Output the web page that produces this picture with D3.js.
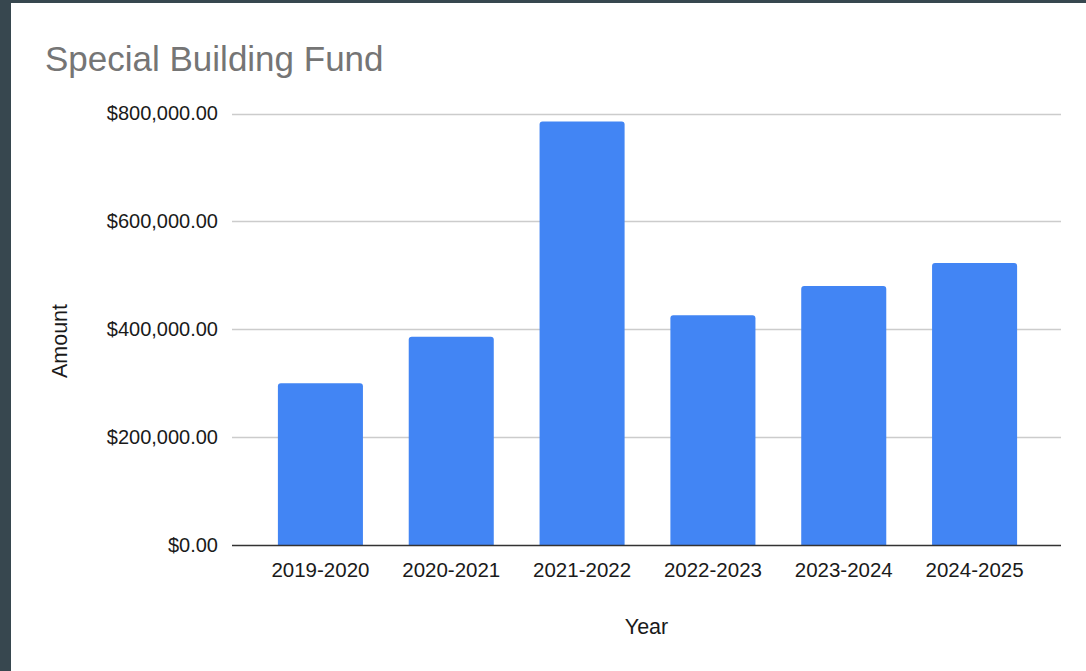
<!DOCTYPE html>
<html>
<head>
<meta charset="utf-8">
<script src="https://cdn.jsdelivr.net/npm/d3@7"></script>
<style>
  html, body { margin: 0; padding: 0; background: #ffffff; }
  svg { display: block; }
</style>
</head>
<body>
<script>
const categories = ["2019-2020", "2020-2021", "2021-2022", "2022-2023", "2023-2024", "2024-2025"];
const amounts = [300000, 386000, 785000, 426000, 480000, 523000];
const yTicks = [0, 200000, 400000, 600000, 800000];
const titleText = "Special Building Fund";
const xAxisTitle = "Year";
const yAxisTitle = "Amount";

const W = 1086, H = 671;
const font = "'Liberation Sans', Arial, sans-serif";

const svg = d3.select("body").append("svg").attr("width", W).attr("height", H);

svg.append("rect").attr("x", 0).attr("y", 0).attr("width", W).attr("height", H).attr("fill", "#ffffff");
// dark frame (top and left)
svg.append("rect").attr("x", 0).attr("y", 0).attr("width", W).attr("height", 3).attr("fill", "#37474f");
svg.append("rect").attr("x", 0).attr("y", 0).attr("width", 11).attr("height", H).attr("fill", "#37474f");

const gridLeft = 232, gridRight = 1061;
const x = d3.scaleBand().domain(categories).range([255, 1040]).paddingInner(0.35).paddingOuter(0.175);
const y = d3.scaleLinear().domain([0, 800000]).range([545, 113.5]);

const fmt = v => "$" + d3.format(",.2f")(v);

// gridlines
svg.append("g").selectAll("line").data(yTicks.filter(t => t !== 0)).join("line")
  .attr("x1", gridLeft).attr("x2", gridRight)
  .attr("y1", d => Math.round(y(d)) + 0.5).attr("y2", d => Math.round(y(d)) + 0.5)
  .attr("stroke", "#cccccc").attr("stroke-width", 1.3);

// y axis labels
const yAxis = d3.axisLeft(y).tickValues(yTicks).tickFormat(fmt).tickSize(0).tickPadding(14);
const yg = svg.append("g").attr("transform", `translate(${gridLeft},0)`).call(yAxis);
yg.select(".domain").remove();
yg.selectAll("text").attr("font-family", font).attr("font-size", 20).attr("fill", "#1a1a1a");

// bars with rounded top corners
const r = 3;
function barPath(d, i) {
  const x0 = x(categories[i]), w = x.bandwidth();
  const yt = y(d), yb = y(0);
  return `M${x0},${yb} L${x0},${yt + r} Q${x0},${yt} ${x0 + r},${yt} L${x0 + w - r},${yt} Q${x0 + w},${yt} ${x0 + w},${yt + r} L${x0 + w},${yb} Z`;
}
svg.append("g").selectAll("path").data(amounts).join("path")
  .attr("d", (d, i) => barPath(d, i))
  .attr("fill", "#4285f4");

// baseline
svg.append("line").attr("x1", gridLeft).attr("x2", gridRight)
  .attr("y1", y(0) + 0.5).attr("y2", y(0) + 0.5)
  .attr("stroke", "#333333").attr("stroke-width", 1.5);

// x axis labels
const xAxis = d3.axisBottom(x).tickSize(0).tickPadding(17);
const xg = svg.append("g").attr("transform", `translate(0,${y(0)})`).call(xAxis);
xg.select(".domain").remove();
xg.selectAll("text").attr("font-family", font).attr("font-size", 20.5).attr("fill", "#1a1a1a");

// title
svg.append("text").attr("x", 45).attr("y", 71)
  .attr("font-family", font).attr("font-size", 35).attr("fill", "#757575")
  .text(titleText);

// axis titles
svg.append("text").attr("x", (gridLeft + gridRight) / 2).attr("y", 634)
  .attr("text-anchor", "middle").attr("font-family", font).attr("font-size", 21.5).attr("fill", "#1a1a1a")
  .text(xAxisTitle);

svg.append("text").attr("transform", "translate(67,341) rotate(-90)")
  .attr("text-anchor", "middle").attr("font-family", font).attr("font-size", 21.5).attr("fill", "#1a1a1a")
  .text(yAxisTitle);
</script>
</body>
</html>
